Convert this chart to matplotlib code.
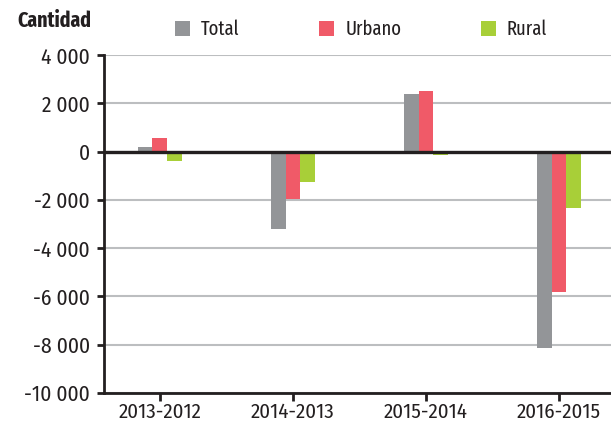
import numpy as np
from matplotlib import pyplot as plt
from matplotlib.ticker import FuncFormatter

periods = ["2013-2012", "2014-2013", "2015-2014", "2016-2015"]
total = [200, -3200, 2380, -8120]
urbano = [580, -1960, 2500, -5820]
rural = [-400, -1270, -150, -2330]

series_names = ["Total", "Urbano", "Rural"]
colors = ["#939598", "#F05A68", "#A8CF38"]
text_color = "#231F20"

plt.rcParams["font.family"] = ["Fira Sans Condensed", "Roboto Condensed",
                               "Liberation Sans Narrow", "DejaVu Sans"]
plt.rcParams["text.color"] = text_color
plt.rcParams["xtick.color"] = text_color
plt.rcParams["ytick.color"] = text_color
narrow = ["Fira Sans Extra Condensed", "Fira Sans Condensed", "DejaVu Sans"]

fig = plt.figure(figsize=(6.11, 4.24), dpi=100)
ax = fig.add_axes([0.170, 0.073, 0.830, 0.797])

x = np.arange(len(periods))
width = 0.11
bars = []
for i, (vals, name, col) in enumerate(zip([total, urbano, rural], series_names, colors)):
    b = ax.bar(x + (i - 1) * width, vals, width, color=col, label=name, zorder=3)
    bars.append(b)

ax.axhline(0, color=text_color, lw=2.4, zorder=4)

ax.set_ylim(-10000, 4000)
ax.set_xlim(-0.42, 3.39)
ax.set_yticks(np.arange(-10000, 4001, 2000))
ax.yaxis.set_major_formatter(FuncFormatter(lambda v, p: f"{v:,.0f}".replace(",", " ")))
ax.set_xticks(x)
ax.set_xticklabels(periods)
ax.tick_params(axis="both", labelsize=15.5, width=2, length=5, direction="out", color=text_color)
ax.tick_params(axis="x", labelsize=15, length=6, pad=1)
ax.tick_params(axis="y", pad=5)

ax.grid(axis="y", color="#BCBEC0", lw=1.5, zorder=0)
ax.set_axisbelow(True)
for side in ["top", "right"]:
    ax.spines[side].set_visible(False)
for side in ["left", "bottom"]:
    ax.spines[side].set_color(text_color)
    ax.spines[side].set_linewidth(2)

fig.text(0.028, 0.951, "Cantidad", fontsize=15.5, fontweight="bold", va="center", ha="left",
         family=narrow)

fig.legend(handles=bars, labels=series_names, ncol=3, loc="center left",
           bbox_to_anchor=(0.286, 0.930), frameon=False,
           prop={"family": narrow, "size": 14.5},
           handlelength=0.75, handleheight=0.75, handletextpad=0.55,
           columnspacing=3.95, borderaxespad=0, borderpad=0)

plt.savefig("out.png", dpi=100)
